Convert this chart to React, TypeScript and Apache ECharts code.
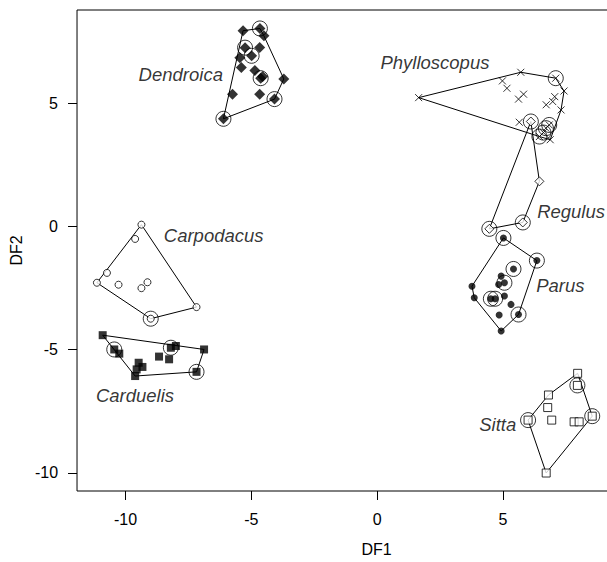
import React, { useEffect, useRef } from "react";
import * as echarts from "echarts";

// ---- data ----
const xTicks = [-10, -5, 0, 5];
const yTicks = [-10, -5, 0, 5];

const dendroica = [
  [-4.66, 8.05], [-5.33, 7.96], [-4.5, 7.75], [-5.25, 7.27], [-4.67, 7.28],
  [-4.99, 6.94], [-5.46, 6.86], [-5.4, 6.46], [-4.86, 6.34], [-4.63, 6.03],
  [-4.55, 6.1], [-3.71, 6.0], [-5.75, 5.38], [-4.67, 5.38], [-4.08, 5.18],
  [-6.11, 4.38],
];
const dendroicaRing = [0, 3, 5, 9, 14, 15];

const phylloscopus = [
  [1.65, 5.24], [5.71, 6.27], [7.1, 6.03], [7.43, 5.51], [4.98, 5.92],
  [5.16, 5.62], [5.82, 5.38], [5.62, 5.18], [7.06, 5.28], [6.98, 5.08],
  [6.72, 4.95], [7.31, 4.74], [5.65, 4.24], [6.84, 4.13], [6.71, 4.0],
  [6.61, 3.82], [6.45, 3.66], [6.88, 3.53],
];
const phylloscopusRing = [2, 13, 14, 15, 16];

const regulus = [[6.11, 4.27], [6.45, 1.84], [5.79, 0.17], [4.46, -0.09]];
const regulusRing = [0, 2, 3];

const parus = [
  [5.02, -0.46], [6.35, -1.38], [5.42, -1.72], [4.93, -2.01], [4.83, -2.35],
  [5.06, -2.28], [3.77, -2.42], [3.86, -2.89], [4.52, -2.93], [4.69, -2.93],
  [5.06, -2.82], [5.32, -3.16], [4.85, -3.59], [5.62, -3.57], [4.93, -4.24],
];
const parusRing = [0, 1, 2, 5, 8, 9, 13];

const carpodacus = [
  [-9.37, 0.08], [-9.62, -0.5], [-10.74, -1.88], [-11.14, -2.28], [-10.28, -2.36],
  [-9.13, -2.26], [-9.37, -2.5], [-9.0, -3.74], [-7.18, -3.27],
];
const carpodacusRing = [7];

const carduelis = [
  [-10.91, -4.41], [-10.45, -4.99], [-10.25, -5.16], [-8.2, -4.92], [-8.0, -4.85],
  [-6.88, -4.99], [-8.67, -5.28], [-8.27, -5.39], [-9.48, -5.53], [-9.33, -5.7],
  [-9.56, -5.8], [-9.62, -6.07], [-7.18, -5.9],
];
const carduelisRing = [1, 3, 12];

const sitta = [
  [7.97, -5.96], [7.96, -6.45], [6.81, -6.84], [6.78, -7.35], [6.0, -7.86],
  [6.94, -7.86], [7.83, -7.93], [8.03, -7.93], [8.55, -7.7], [6.72, -10.01],
];
const sittaRing = [1, 4, 8];

const genusNames = ["Dendroica", "Phylloscopus", "Regulus", "Carpodacus", "Parus", "Carduelis", "Sitta"];
const genusLabelAt = [
  [-6.13, 6.16], [0.13, 6.65], [6.36, 0.6], [-8.48, -0.36], [6.32, -2.39], [-11.18, -6.85], [5.53, -8.03],
];
const genusLabelAlign = ["right", "left", "left", "left", "left", "left", "right"];

// ---- helpers ----
function hull(pts: number[][]): number[][] {
  const p = pts.slice().sort((a, b) => a[0] - b[0] || a[1] - b[1]);
  const cross = (o: number[], a: number[], b: number[]) =>
    (a[0] - o[0]) * (b[1] - o[1]) - (a[1] - o[1]) * (b[0] - o[0]);
  const lower: number[][] = [];
  for (const q of p) {
    while (lower.length >= 2 && cross(lower[lower.length - 2], lower[lower.length - 1], q) <= 0) lower.pop();
    lower.push(q);
  }
  const upper: number[][] = [];
  for (let i = p.length - 1; i >= 0; i--) {
    const q = p[i];
    while (upper.length >= 2 && cross(upper[upper.length - 2], upper[upper.length - 1], q) <= 0) upper.pop();
    upper.push(q);
  }
  const h = lower.slice(0, -1).concat(upper.slice(0, -1));
  h.push(h[0]);
  return h;
}

const FONT = "Liberation Sans, Arial, Helvetica, sans-serif";

export default function App() {
  const ref = useRef<HTMLDivElement>(null);
  useEffect(() => {
    if (!ref.current) return;
    const chart = echarts.init(ref.current, undefined, { renderer: "svg" });

    const groups: { pts: number[][]; ring: number[]; symbol: string; size: number; filled: boolean }[] = [
      { pts: dendroica, ring: dendroicaRing, symbol: "diamond", size: 11, filled: true },
      { pts: phylloscopus, ring: phylloscopusRing, symbol: "path://M0,0L10,10M10,0L0,10", size: 7, filled: false },
      { pts: regulus, ring: regulusRing, symbol: "diamond", size: 9, filled: false },
      { pts: parus, ring: parusRing, symbol: "circle", size: 7, filled: true },
      { pts: carpodacus, ring: carpodacusRing, symbol: "circle", size: 7, filled: false },
      { pts: carduelis, ring: carduelisRing, symbol: "rect", size: 8, filled: true },
      { pts: sitta, ring: sittaRing, symbol: "rect", size: 8, filled: false },
    ];

    const series: any[] = [];
    groups.forEach((g) => {
      series.push({
        type: "line",
        data: hull(g.pts),
        symbol: "none",
        lineStyle: { color: "#000", width: 1 },
        z: 1,
        silent: true,
      });
      series.push({
        type: "scatter",
        data: g.pts,
        symbol: g.symbol,
        symbolSize: g.size,
        itemStyle: g.filled
          ? { color: "#000" }
          : { color: g.symbol.startsWith("path") ? "none" : "#fff", borderColor: "#000", borderWidth: 1 },
        z: 3,
      });
      series.push({
        type: "scatter",
        data: g.ring.map((i) => g.pts[i]),
        symbol: "circle",
        symbolSize: 15,
        itemStyle: { color: "none", borderColor: "#000", borderWidth: 1 },
        z: 4,
      });
    });

    series.push({
      type: "scatter",
      symbolSize: 0,
      z: 5,
      data: genusNames.map((n, i) => ({
        value: genusLabelAt[i],
        name: n,
        label: { align: genusLabelAlign[i] },
      })),
      label: {
        show: true,
        position: "inside",
        formatter: (p: any) => p.name,
        color: "#000",
        fontStyle: "italic",
        fontSize: 18.5,
        fontFamily: FONT,
        verticalAlign: "middle",
      },
    });

    chart.setOption({
      animation: false,
      backgroundColor: "#fff",
      grid: {
        left: 76,
        top: 10,
        width: 600,
        height: 482,
        show: true,
        borderColor: "#000",
        borderWidth: 1,
        backgroundColor: "transparent",
      },
      xAxis: {
        type: "value",
        min: -11.93,
        max: 11.88,
        name: "DF1",
        nameLocation: "middle",
        nameGap: 50,
        nameTextStyle: { fontSize: 16, fontFamily: FONT, color: "#000" },
        axisLine: { show: false, onZero: false },
        splitLine: { show: false },
        axisTick: { show: true, length: 9, customValues: xTicks, lineStyle: { color: "#000" } },
        axisLabel: { customValues: xTicks, margin: 20, fontSize: 16, fontFamily: FONT, color: "#000" },
      },
      yAxis: {
        type: "value",
        min: -10.74,
        max: 8.8,
        name: "DF2",
        nameLocation: "middle",
        nameGap: 50,
        nameRotate: 90,
        nameTextStyle: { fontSize: 16, fontFamily: FONT, color: "#000" },
        axisLine: { show: false, onZero: false },
        splitLine: { show: false },
        axisTick: { show: true, length: 9, customValues: yTicks, lineStyle: { color: "#000" } },
        axisLabel: { customValues: yTicks, margin: 19, fontSize: 16, fontFamily: FONT, color: "#000" },
      },
      series,
    });
    return () => chart.dispose();
  }, []);
  return (
    <div
      style={{ position: "absolute", left: 0, top: 0, width: 607, height: 562, overflow: "hidden", background: "#fff" }}
    >
      <div ref={ref} style={{ width: 700, height: 562 }} />
    </div>
  );
}
